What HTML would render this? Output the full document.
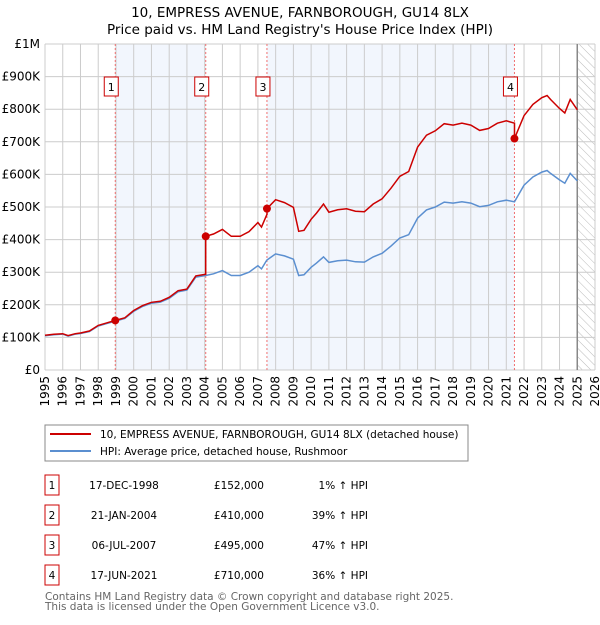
<!DOCTYPE html>
<html><head><meta charset="utf-8"><style>
body{margin:0;background:#fff;font-family:"Liberation Sans","DejaVu Sans",sans-serif;}
svg text{font-family:"DejaVu Sans","Liberation Sans",sans-serif;}
</style></head><body>
<svg id="c" width="600" height="620" xmlns="http://www.w3.org/2000/svg">
<defs><pattern id="hatch" width="6" height="6" patternUnits="userSpaceOnUse" patternTransform="rotate(-45)"><line x1="0" y1="0" x2="0" y2="6" stroke="#bbb" stroke-width="1"/></pattern></defs>
<text x="300" y="17" text-anchor="middle" font-size="13.5">10, EMPRESS AVENUE, FARNBOROUGH, GU14 8LX</text>
<text x="300" y="34" text-anchor="middle" font-size="13.5">Price paid vs. HM Land Registry's House Price Index (HPI)</text>
<g id="plot"></g>
<rect x="45" y="425" width="423" height="36" fill="#fff" stroke="#888"/>
<line x1="50" y1="434" x2="91" y2="434" stroke="#cc0000" stroke-width="2"/>
<text x="100" y="438" font-size="10.5">10, EMPRESS AVENUE, FARNBOROUGH, GU14 8LX (detached house)</text>
<line x1="50" y1="451" x2="91" y2="451" stroke="#5b8fd0" stroke-width="2"/>
<text x="100" y="455" font-size="10.5">HPI: Average price, detached house, Rushmoor</text>
<g id="table" font-size="10.5"></g>
<text x="45" y="600" font-size="10.5" fill="#666">Contains HM Land Registry data © Crown copyright and database right 2025.</text>
<text x="45" y="610" font-size="10.5" fill="#666">This data is licensed under the Open Government Licence v3.0.</text>
</svg>
<script>
const hpiYears=[1995,1995.5,1996,1996.3,1996.7,1997,1997.5,1998,1998.5,1998.96,1999.5,2000,2000.5,2001,2001.5,2002,2002.5,2003,2003.5,2004.06,2004.5,2005,2005.5,2006,2006.5,2007,2007.2,2007.5,2008,2008.5,2009,2009.3,2009.6,2010,2010.3,2010.7,2011,2011.5,2012,2012.5,2013,2013.5,2014,2014.5,2015,2015.5,2016,2016.5,2017,2017.5,2018,2018.5,2019,2019.5,2020,2020.5,2021,2021.46,2022,2022.5,2023,2023.3,2023.5,2024,2024.3,2024.6,2025];
const hpiValues=[105,108,110,104,110,112,118,135,143,150,158,180,195,205,208,220,240,245,285,290,295,305,290,290,300,320,310,337,356,350,340,290,292,315,328,347,330,335,337,332,331,347,358,380,405,415,466,491,500,515,512,516,512,501,505,516,521,516,567,592,607,612,603,583,573,603,580];
const saleLabels=["1","2","3","4"];
const saleYears=[1998.96,2004.06,2007.51,2021.46];
const salePrices=[152,410,495,710];
const saleDates=["17-DEC-1998","21-JAN-2004","06-JUL-2007","17-JUN-2021"];
const salePriceText=["£152,000","£410,000","£495,000","£710,000"];
const saleHpiText=["1% ↑ HPI","39% ↑ HPI","47% ↑ HPI","36% ↑ HPI"];
const yTicks=[0,100,200,300,400,500,600,700,800,900,1000];
const yTickLabels=["£0","£100K","£200K","£300K","£400K","£500K","£600K","£700K","£800K","£900K","£1M"];
const xTicks=[1995,1996,1997,1998,1999,2000,2001,2002,2003,2004,2005,2006,2007,2008,2009,2010,2011,2012,2013,2014,2015,2016,2017,2018,2019,2020,2021,2022,2023,2024,2025,2026];

const NS="http://www.w3.org/2000/svg";
const X0=45,X1=595,Y0=370,Y1=44;
const xs=y=>X0+(y-1995)/(2026-1995)*(X1-X0);
const ys=v=>Y0-v/1000*(Y0-Y1);
const plot=document.getElementById('plot');
function mk(tag,attrs,parent){const e=document.createElementNS(NS,tag);for(const k in attrs)e.setAttribute(k,attrs[k]);(parent||plot).appendChild(e);return e;}
function hpiAt(t){for(let i=0;i<hpiYears.length-1;i++){if(t<=hpiYears[i+1]){const f=(t-hpiYears[i])/(hpiYears[i+1]-hpiYears[i]);return hpiValues[i]+f*(hpiValues[i+1]-hpiValues[i]);}}return hpiValues[hpiValues.length-1];}

let e;
e=mk('rect',{x:X0,y:Y1,width:X1-X0,height:Y0-Y1,fill:'#fff'});


for(let i=0;i<saleYears.length;i+=2){
  const a=xs(saleYears[i]),b=i+1<saleYears.length?xs(saleYears[i+1]):X1;
  e=mk('rect',{x:a,y:Y1,width:b-a,height:Y0-Y1,fill:'#f2f6fd'});
  
  
}
e=mk('rect',{x:xs(2025),y:Y1,width:X1-xs(2025),height:Y0-Y1,fill:'url(#hatch)'});


xTicks.forEach((t,i)=>{
  e=mk('line',{x1:xs(t),x2:xs(t),y1:Y1,y2:Y0,stroke:'#ccc','stroke-width':1});
  
  
  e=mk('text',{x:0,y:0,'font-size':12,'text-anchor':'end',transform:`translate(${xs(t)+4},376) rotate(-90)`});
  e.textContent=t;
  
  
});
yTicks.forEach((v,i)=>{
  e=mk('line',{x1:X0,x2:X1,y1:ys(v),y2:ys(v),stroke:'#ccc','stroke-width':1});
  
  
  e=mk('text',{x:40,y:ys(v)+4,'font-size':12,'text-anchor':'end'});
  e.textContent=yTickLabels[i];
  
  
});
e=mk('line',{x1:xs(2025),x2:xs(2025),y1:Y1,y2:Y0,stroke:'#888','stroke-width':1.5});


saleYears.forEach((t,i)=>{
  e=mk('line',{x1:xs(t),x2:xs(t),y1:Y1,y2:Y0,stroke:'#f07070','stroke-width':1,'stroke-dasharray':'2,2'});
  
  
});
let d=hpiYears.map((t,i)=>(i?'L':'M')+xs(t).toFixed(1)+','+ys(hpiValues[i]).toFixed(1)).join('');
e=mk('path',{d:d,fill:'none',stroke:'#5b8fd0','stroke-width':1.5});


const factors=saleYears.map((t,i)=>salePrices[i]/hpiAt(t));
function factorAt(t){let f=factors[0];for(let i=0;i<saleYears.length;i++)if(t>=saleYears[i])f=factors[i];return f;}
let pts=[];
const allT=[...hpiYears,...saleYears].sort((a,b)=>a-b);
allT.forEach(t=>{
  const k=saleYears.indexOf(t);
  if(k>0){pts.push([t,hpiAt(t)*factors[k-1]]);}
  pts.push([t,hpiAt(t)*factorAt(t)]);
});
d=pts.map((p,i)=>(i?'L':'M')+xs(p[0]).toFixed(1)+','+ys(p[1]).toFixed(1)).join('');
e=mk('path',{d:d,fill:'none',stroke:'#cc0000','stroke-width':1.5});


saleYears.forEach((t,i)=>{
  e=mk('circle',{cx:xs(t),cy:ys(salePrices[i]),r:4,fill:'#cc0000'});
  
  
  const rx=xs(t)-11;
  e=mk('rect',{x:rx,y:77,width:14,height:19,fill:'#fff',stroke:'#cc0000'});
  
  
  e=mk('text',{x:rx+7,y:91,'font-size':11,'text-anchor':'middle'});
  e.textContent=saleLabels[i];
  
  
});
const tb=document.getElementById('table');
saleYears.forEach((t,i)=>{
  const y=475+i*30;
  e=mk('rect',{x:45,y:y,width:14,height:20,fill:'#fff',stroke:'#cc0000'},tb);
  
  
  e=mk('text',{x:52,y:y+14,'text-anchor':'middle'},tb);e.textContent=saleLabels[i];
  
  
  e=mk('text',{x:124,y:y+14,'text-anchor':'middle'},tb);e.textContent=saleDates[i];
  
  
  e=mk('text',{x:264,y:y+14,'text-anchor':'end'},tb);e.textContent=salePriceText[i];
  
  
  e=mk('text',{x:368,y:y+14,'text-anchor':'end'},tb);e.textContent=saleHpiText[i];
  
  
});
</script>
</body></html>
